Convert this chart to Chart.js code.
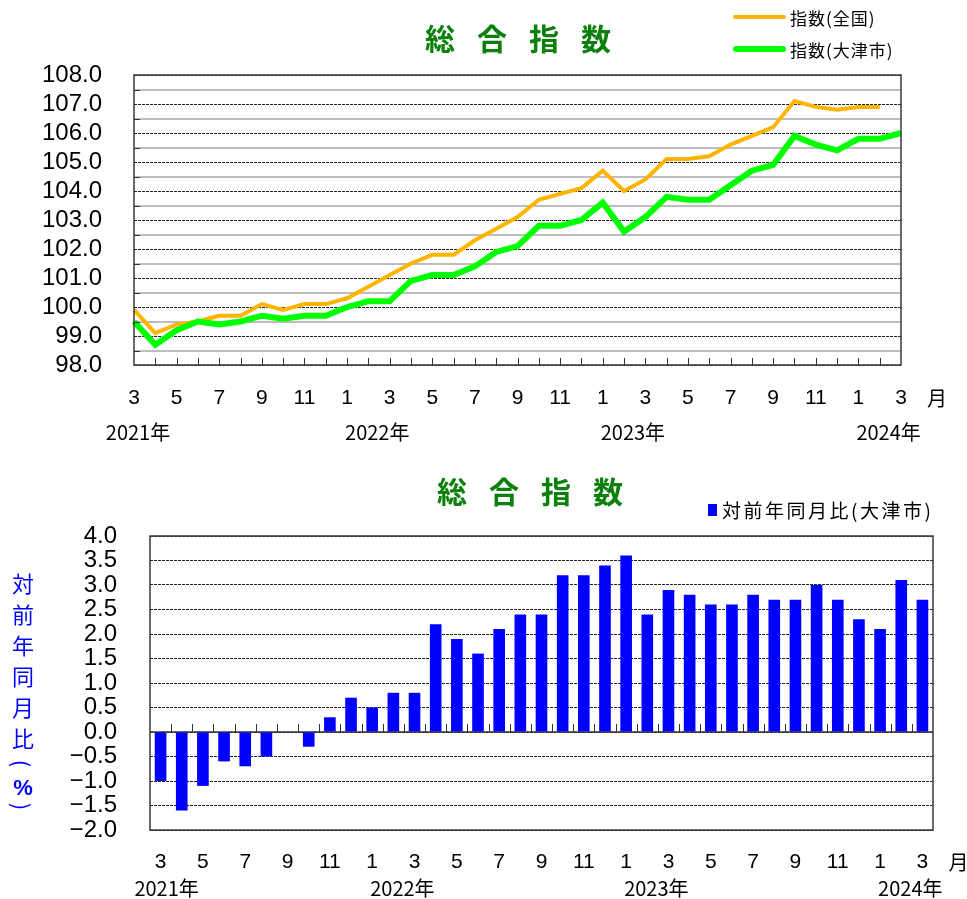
<!DOCTYPE html>
<html><head><meta charset="utf-8">
<script src="https://cdn.jsdelivr.net/npm/chart.js@4/dist/chart.umd.min.js"></script>
<style>
html,body{margin:0;padding:0;background:#fff;}
body{width:967px;height:899px;position:relative;overflow:hidden;font-family:"Noto Sans CJK JP","Noto Sans",sans-serif;}
canvas{position:absolute;left:0;}
.title{position:absolute;font-weight:bold;color:#0b800b;font-size:30px;line-height:30px;letter-spacing:22px;white-space:nowrap;}
.lg{position:absolute;font-size:17px;line-height:17px;white-space:nowrap;color:#000;letter-spacing:1px;}
.ln{position:absolute;border-radius:3px;}
#ytitle{position:absolute;left:10px;top:567px;width:26px;color:#0000ff;font-size:22px;text-align:center;}
#ytitle div{display:block;position:relative;overflow:visible;}
#ytitle span{display:inline-block;}
</style></head>
<body>
<canvas id="c1" width="967" height="460" style="top:0"></canvas>
<canvas id="c2" width="967" height="439" style="top:460px"></canvas>
<div class="title" style="left:425px;top:22px">総合指数</div>
<div class="ln" style="left:733px;top:15px;width:53px;height:4px;background:#ffb400"></div>
<div class="lg" style="left:790px;top:9px">指数(全国)</div>
<div class="ln" style="left:733px;top:46px;width:53px;height:6px;background:#00ff00"></div>
<div class="lg" style="left:790px;top:41px">指数(大津市)</div>
<div class="title" style="left:437px;top:475px">総合指数</div>
<div style="position:absolute;left:708px;top:504px;width:9px;height:12px;background:#0000ff"></div>
<div class="lg" style="left:722px;top:500px;font-size:19px;line-height:19px;letter-spacing:2.5px">対前年同月比(大津市)</div>
<div id="ytitle"></div>
<script>
// ---- data ----
const categories = ['2021/3','2021/4','2021/5','2021/6','2021/7','2021/8','2021/9','2021/10','2021/11','2021/12',
  '2022/1','2022/2','2022/3','2022/4','2022/5','2022/6','2022/7','2022/8','2022/9','2022/10','2022/11','2022/12',
  '2023/1','2023/2','2023/3','2023/4','2023/5','2023/6','2023/7','2023/8','2023/9','2023/10','2023/11','2023/12',
  '2024/1','2024/2','2024/3'];
const nationalIndex = [99.9, 99.1, 99.4, 99.5, 99.7, 99.7, 100.1, 99.9, 100.1, 100.1,
  100.3, 100.7, 101.1, 101.5, 101.8, 101.8, 102.3, 102.7, 103.1, 103.7, 103.9, 104.1,
  104.7, 104.0, 104.4, 105.1, 105.1, 105.2, 105.6, 105.9, 106.2, 107.1, 106.9, 106.8,
  106.9, 106.9, null];
const otsuIndex = [99.5, 98.7, 99.2, 99.5, 99.4, 99.5, 99.7, 99.6, 99.7, 99.7,
  100.0, 100.2, 100.2, 100.9, 101.1, 101.1, 101.4, 101.9, 102.1, 102.8, 102.8, 103.0,
  103.6, 102.6, 103.1, 103.8, 103.7, 103.7, 104.2, 104.7, 104.9, 105.9, 105.6, 105.4,
  105.8, 105.8, 106.0];
const otsuYoY = [-1.0, -1.6, -1.1, -0.6, -0.7, -0.5, 0.0, -0.3, 0.3, 0.7,
  0.5, 0.8, 0.8, 2.2, 1.9, 1.6, 2.1, 2.4, 2.4, 3.2, 3.2, 3.4,
  3.6, 2.4, 2.9, 2.8, 2.6, 2.6, 2.8, 2.7, 2.7, 3.0, 2.7, 2.3,
  2.1, 3.1, 2.7];
const seriesNames = ['指数(全国)', '指数(大津市)', '対前年同月比(大津市)'];
const yTitleChars = ['対','前','年','同','月','比','(','%',')'];
const monthUnit = '月';
const yearUnit = '年';

// y-axis title (vertical, parentheses turned sideways)
const yt = document.getElementById('ytitle');
yTitleChars.forEach(ch => {
  const d = document.createElement('div');
  const paren = (ch === '(' || ch === ')');
  d.style.height = paren ? '21px' : (ch === '%' ? '22px' : '31px');
  d.style.lineHeight = d.style.height;
  const s = document.createElement('span');
  s.textContent = ch;
  if (paren) {
    s.style.fontFamily = '"Noto Sans CJK JP",sans-serif';
    s.style.transform = 'rotate(90deg)';
  } else if (ch === '%') {
    s.style.fontFamily = '"Liberation Sans",Arial,sans-serif';
    s.style.fontWeight = 'bold';
  } else {
    s.style.fontFamily = '"Noto Sans CJK JP",sans-serif';
  }
  d.appendChild(s);
  yt.appendChild(d);
});

const monthOf = c => c.split('/')[1];
const yearOf = c => c.split('/')[0];
const tickFont = {family: '"Liberation Sans Narrow","Liberation Sans",Arial,sans-serif', size: 21};
const yFont = {family: '"Liberation Sans",Arial,sans-serif', size: 24};
const yearFont = '20px "Liberation Sans Narrow","Noto Sans CJK JP",sans-serif';

function monthTick(val, i) {
  const m = parseInt(monthOf(categories[i]), 10);
  return (m % 2 === 1) ? String(m) : '';
}

const decor = {
  id: 'decor',
  beforeDatasetsDraw(chart, args, o) {
    const {ctx, chartArea: a, scales} = chart;
    ctx.save();
    if (o.zeroLine) {
      const y0 = scales.y.getPixelForValue(0);
      ctx.strokeStyle = '#333'; ctx.lineWidth = 1.5;
      ctx.beginPath(); ctx.moveTo(a.left, y0); ctx.lineTo(a.right, y0); ctx.stroke();
    }
    ctx.restore();
  },
  afterDatasetsDraw(chart, args, o) {
    const {ctx, chartArea: a, scales} = chart;
    const x = scales.x;
    ctx.save();
    ctx.strokeStyle = '#333'; ctx.lineWidth = 1;
    const n = categories.length;
    ctx.beginPath();
    if (o.boundaryTicks) {
      const y0 = scales.y.getPixelForValue(0);
      for (let i = 0; i < n - 1; i++) {
        const px = Math.round((x.getPixelForValue(i) + x.getPixelForValue(i + 1)) / 2) + 0.5;
        ctx.moveTo(px, y0); ctx.lineTo(px, y0 - 8);
      }
    } else {
      for (let i = 1; i < n - 1; i++) {
        const px = Math.round(x.getPixelForValue(i)) + 0.5;
        ctx.moveTo(px, a.bottom); ctx.lineTo(px, a.bottom - 7);
      }
      const ys = scales.y;
      for (let v = ys.min + 0.5; v < ys.max; v += 1) {
        const py = Math.round(ys.getPixelForValue(v)) + 0.5;
        ctx.moveTo(a.left, py); ctx.lineTo(a.left + 6, py);
      }
    }
    ctx.stroke();
    ctx.strokeStyle = '#3a3a3a'; ctx.lineWidth = 1.5;
    ctx.strokeRect(a.left, a.top, a.right - a.left, a.bottom - a.top);
    ctx.fillStyle = '#000';
    ctx.textBaseline = 'middle';
    ctx.font = yearFont;
    let prev = null;
    categories.forEach((c, i) => {
      const yr = yearOf(c);
      if (yr !== prev) {
        const px = x.getPixelForValue(i);
        ctx.textAlign = (prev === null) ? 'center' : 'left';
        ctx.fillText(yr + yearUnit, prev === null ? px + o.firstYearShift : px - 2, a.bottom + o.yearDy);
        prev = yr;
      }
    });
    ctx.font = '20px "Noto Sans CJK JP",sans-serif';
    ctx.textAlign = 'center';
    ctx.fillText(monthUnit, x.getPixelForValue(n - 1) + 36, a.bottom + o.monthDy);
    ctx.restore();
  }
};

// ---- top chart ----
new Chart(document.getElementById('c1'), {
  type: 'line',
  data: {
    labels: categories,
    datasets: [
      {label: seriesNames[0], data: nationalIndex, borderColor: '#ffb400', borderWidth: 4, pointRadius: 0, tension: 0, order: 2},
      {label: seriesNames[1], data: otsuIndex, borderColor: '#00ff00', borderWidth: 6, pointRadius: 0, tension: 0, order: 1}
    ]
  },
  options: {
    responsive: false, animation: false, devicePixelRatio: 1,
    layout: {padding: {top: 75, right: 66, bottom: 0, left: 0}},
    plugins: {legend: {display: false}, title: {display: false}, tooltip: {enabled: false},
      decor: {yearDy: 67, monthDy: 33, firstYearShift: 4}},
    scales: {
      x: {type: 'category', offset: false,
        grid: {display: false, drawTicks: false}, border: {display: false},
        ticks: {autoSkip: false, maxRotation: 0, minRotation: 0, padding: 21, color: '#000', font: tickFont, callback: monthTick},
        afterFit: s => { s.height = 95; }},
      y2: {position: 'left', min: 98, max: 108,
        ticks: {display: false, stepSize: 0.5, autoSkip: false},
        grid: {drawTicks: false, lineWidth: 2, color: c => (Math.abs(c.tick.value % 1) > 0.01 ? '#bdbdbd' : 'rgba(0,0,0,0)')},
        border: {display: false},
        afterFit: s => { s.width = 0; }},
      y: {position: 'left', min: 98, max: 108,
        ticks: {stepSize: 1, autoSkip: false, padding: 32, color: '#000', font: yFont, callback: v => Number(v).toFixed(1)},
        grid: {drawTicks: false, color: '#222', lineWidth: 1},
        border: {display: false, dash: [3, 1]},
        afterFit: s => { s.width = 134; }}
    }
  },
  plugins: [decor]
});

// ---- bottom chart ----
new Chart(document.getElementById('c2'), {
  type: 'bar',
  data: {
    labels: categories,
    datasets: [
      {label: seriesNames[2], data: otsuYoY, backgroundColor: '#0000ff', barPercentage: 0.55, categoryPercentage: 1}
    ]
  },
  options: {
    responsive: false, animation: false, devicePixelRatio: 1,
    layout: {padding: {top: 76, right: 34, bottom: 0, left: 0}},
    plugins: {legend: {display: false}, title: {display: false}, tooltip: {enabled: false},
      decor: {zeroLine: true, boundaryTicks: true, yearDy: 58, monthDy: 32, firstYearShift: 6}},
    scales: {
      x: {type: 'category', offset: true,
        grid: {display: false, drawTicks: false}, border: {display: false},
        ticks: {autoSkip: false, maxRotation: 0, minRotation: 0, padding: 20, color: '#000', font: tickFont, callback: monthTick},
        afterFit: s => { s.height = 69; }},
      y: {position: 'left', min: -2, max: 4,
        ticks: {stepSize: 0.5, autoSkip: false, padding: 33, color: '#000', font: yFont,
          callback: v => (v < 0 ? '\u2212' : '') + Math.abs(Number(v)).toFixed(1)},
        grid: {drawTicks: false, color: '#222', lineWidth: 1},
        border: {display: false, dash: [3, 1]},
        afterFit: s => { s.width = 150; }}
    }
  },
  plugins: [decor]
});
</script>
</body></html>
